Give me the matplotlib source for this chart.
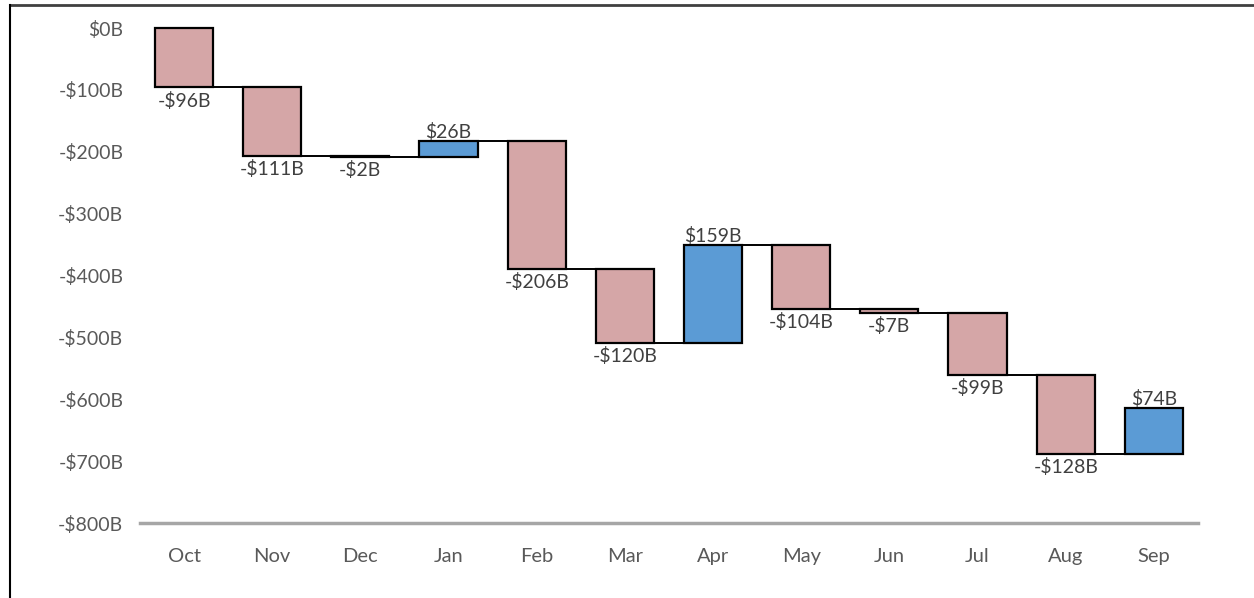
import matplotlib
matplotlib.use("Agg")
import matplotlib.pyplot as plt
from matplotlib.lines import Line2D
import numpy as np

plt.rcParams['font.family'] = ['Lato', 'DejaVu Sans']

months = ["Oct", "Nov", "Dec", "Jan", "Feb", "Mar", "Apr", "May", "Jun", "Jul", "Aug", "Sep"]
changes = [-96, -111, -2, 26, -206, -120, 159, -104, -7, -99, -128, 74]
yticks = [0, -100, -200, -300, -400, -500, -600, -700, -800]

pink = '#D5A6A7'
blue = '#5B9BD5'
gray = '#595959'

vals = np.array(changes)
ends = np.cumsum(vals)
starts = ends - vals
x = np.arange(len(months))
w = 0.66

fig = plt.figure(figsize=(12.54, 5.98), dpi=100)
ax = fig.add_axes([0.1116, 0.1254, 0.8437, 0.8381])

colors = [blue if v > 0 else pink for v in vals]
ax.bar(x, vals, bottom=starts, width=w, color=colors, edgecolor='black', linewidth=1.6, zorder=3)

# connectors
for i in range(len(x) - 1):
    ax.plot([x[i] + w / 2, x[i + 1] - w / 2], [ends[i], ends[i]], color='black', linewidth=1.4, zorder=2)

# labels
for i, v in enumerate(vals):
    if v < 0:
        txt = "-${}B".format(abs(v))
        ax.annotate(txt, (x[i], ends[i]), xytext=(0, -3), textcoords='offset points',
                    ha='center', va='top', fontsize=14, color='#404040')
    else:
        txt = "${}B".format(v)
        ax.annotate(txt, (x[i], ends[i]), xytext=(0, 0), textcoords='offset points',
                    ha='center', va='bottom', fontsize=14, color='#404040')

ax.set_xlim(-0.5, 11.5)
ax.set_ylim(-800, 10)
ax.set_xticks(x)
ax.set_xticklabels(months, fontsize=14.5, color=gray)
ax.set_yticks(yticks)
ax.set_yticklabels([("-${}B".format(abs(t)) if t < 0 else "${}B".format(t)) for t in yticks],
                   fontsize=14, color=gray)
ax.tick_params(axis='both', length=0)
ax.tick_params(axis='x', pad=18)
ax.tick_params(axis='y', pad=12)

for s in ['top', 'right', 'left']:
    ax.spines[s].set_visible(False)
ax.spines['bottom'].set_color('#A6A6A6')
ax.spines['bottom'].set_linewidth(2.5)

# outer frame (top and left only)
fig.add_artist(Line2D([0.008, 1.0], [0.991, 0.991], color='#404040', linewidth=2, transform=fig.transFigure))
fig.add_artist(Line2D([0.008, 0.008], [0.0, 0.991], color='black', linewidth=1.5, transform=fig.transFigure))

fig.savefig("out.png", dpi=100)
